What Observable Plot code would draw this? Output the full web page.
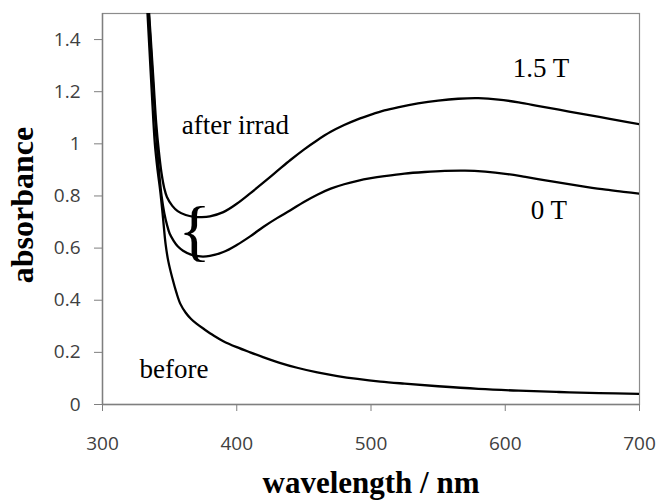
<!DOCTYPE html>
<html>
<head>
<meta charset="utf-8">
<script src="https://cdn.jsdelivr.net/npm/d3@7"></script>
<script src="https://cdn.jsdelivr.net/npm/@observablehq/plot@0.6"></script>
<style>
  html, body { margin: 0; padding: 0; background: #fff; }
</style>
</head>
<body>
<div id="chart"></div>
<script>
// ---- data ----
const wl15  = [332, 334, 336, 338, 340, 342, 344, 346, 348, 352, 356, 362, 368, 374, 380, 390, 400, 410, 420, 430, 440, 450, 460, 470, 480, 490, 500, 510, 520, 535, 550, 565, 580, 595, 610, 625, 640, 655, 670, 685, 700];
const abs15 = [1.75, 1.56, 1.40, 1.24, 1.08, 0.97, 0.886, 0.83, 0.796, 0.762, 0.742, 0.727, 0.72, 0.719, 0.722, 0.738, 0.77, 0.81, 0.852, 0.895, 0.938, 0.978, 1.014, 1.046, 1.072, 1.094, 1.112, 1.128, 1.14, 1.155, 1.166, 1.173, 1.175, 1.17, 1.159, 1.145, 1.131, 1.117, 1.103, 1.089, 1.075];

const wl0   = [332, 334, 336, 338, 340, 342, 344, 346, 348, 350, 353, 356, 360, 366, 373, 380, 390, 400, 410, 420, 430, 440, 450, 460, 470, 480, 490, 500, 510, 525, 540, 555, 570, 585, 600, 615, 630, 645, 660, 675, 690, 700];
const abs0  = [1.72, 1.54, 1.37, 1.20, 1.03, 0.90, 0.80, 0.735, 0.69, 0.656, 0.628, 0.607, 0.59, 0.575, 0.568, 0.57, 0.585, 0.612, 0.645, 0.682, 0.715, 0.745, 0.777, 0.805, 0.828, 0.845, 0.858, 0.868, 0.876, 0.886, 0.892, 0.896, 0.897, 0.893, 0.885, 0.873, 0.86, 0.847, 0.835, 0.824, 0.815, 0.809];

const wlB   = [331, 333, 335, 337, 339, 341, 343, 345, 347, 349, 352, 355, 358, 362, 366, 370, 376, 383, 390, 400, 410, 420, 432, 445, 460, 475, 490, 507, 525, 550, 580, 610, 640, 670, 700];
const absB  = [1.75, 1.55, 1.36, 1.17, 1.0, 0.9, 0.82, 0.72, 0.615, 0.55, 0.485, 0.43, 0.386, 0.352, 0.328, 0.31, 0.288, 0.264, 0.243, 0.22, 0.2, 0.181, 0.16, 0.141, 0.123, 0.109, 0.098, 0.088, 0.08, 0.07, 0.06, 0.053, 0.048, 0.044, 0.041];

const xTicks = [300, 400, 500, 600, 700];
const yTicks = [0, 0.2, 0.4, 0.6, 0.8, 1, 1.2, 1.4];
const yTickLabels = ["0", "0.2", "0.4", "0.6", "0.8", "1", "1.2", "1.4"];

const annoText = ["after irrad", "1.5 T", "0 T", "before"];
const annoX    = [359.0, 605.5, 619.0, 327.5];
const annoY    = [1.039, 1.256, 0.713, 0.101];

const braceText = ["{"];
const braceX = [368.5];
const braceY = [0.664];

const xTitle = "wavelength / nm";
const yTitle = "absorbance";

// ---- build tables ----
const toRows = (wl, ab, s) => wl.map((w, i) => ({wl: w, a: ab[i], s}));
const series = [
  ...toRows(wl15, abs15, "1.5 T"),
  ...toRows(wl0, abs0, "0 T"),
  ...toRows(wlB, absB, "before")
];
const annos = annoText.map((t, i) => ({t, x: annoX[i], y: annoY[i]}));

const serif = "'Liberation Serif', 'Times New Roman', serif";

const plot = Plot.plot({
  width: 656,
  height: 500,
  marginLeft: 102,
  marginRight: 17,
  marginTop: 13,
  marginBottom: 96,
  style: {fontFamily: "'Open Sans', 'Liberation Sans', sans-serif", fontSize: "19px", color: "#404040", background: "#fff"},
  x: {domain: [300, 700]},
  y: {domain: [0, 1.5]},
  marks: [
    Plot.frame({stroke: "#8c8c8c", strokeWidth: 1.2}),
    Plot.axisX(xTicks, {tickSize: 7, tickPadding: 25, tickFormat: d => String(d), label: null, stroke: "#7f7f7f", fontSize: 19}),
    Plot.axisY(yTicks, {tickSize: 8, tickPadding: 14, tickFormat: d => yTickLabels[yTicks.indexOf(d)], label: null, stroke: "#7f7f7f", fontSize: 19}),
    Plot.ruleY([0], {stroke: "#7f7f7f", strokeWidth: 1.4}),
    Plot.ruleX([300], {stroke: "#7f7f7f", strokeWidth: 1.4}),
    Plot.line(series, {x: "wl", y: "a", z: "s", stroke: "#000", strokeWidth: 2.3, curve: "catmull-rom", clip: true}),
    Plot.text(annos, {x: "x", y: "y", text: "t", textAnchor: "start", lineAnchor: "bottom", fontFamily: serif, fontSize: 27, fill: "#000"}),
    Plot.text(braceText, {x: () => braceX[0], y: () => braceY[0], text: d => d, textAnchor: "middle", lineAnchor: "middle", fontFamily: serif, fontSize: 68, fill: "#000"}),
    Plot.text([xTitle], {frameAnchor: "bottom", lineAnchor: "bottom", dy: 88, text: d => d, fontFamily: serif, fontWeight: "bold", fontSize: 31, fill: "#000"}),
    Plot.text([yTitle], {frameAnchor: "left", textAnchor: "middle", lineAnchor: "middle", rotate: -90, dx: -80, dy: -4, text: d => d, fontFamily: serif, fontWeight: "bold", fontSize: 32, fill: "#000"})
  ]
});
document.getElementById("chart").appendChild(plot);
</script>
</body>
</html>
